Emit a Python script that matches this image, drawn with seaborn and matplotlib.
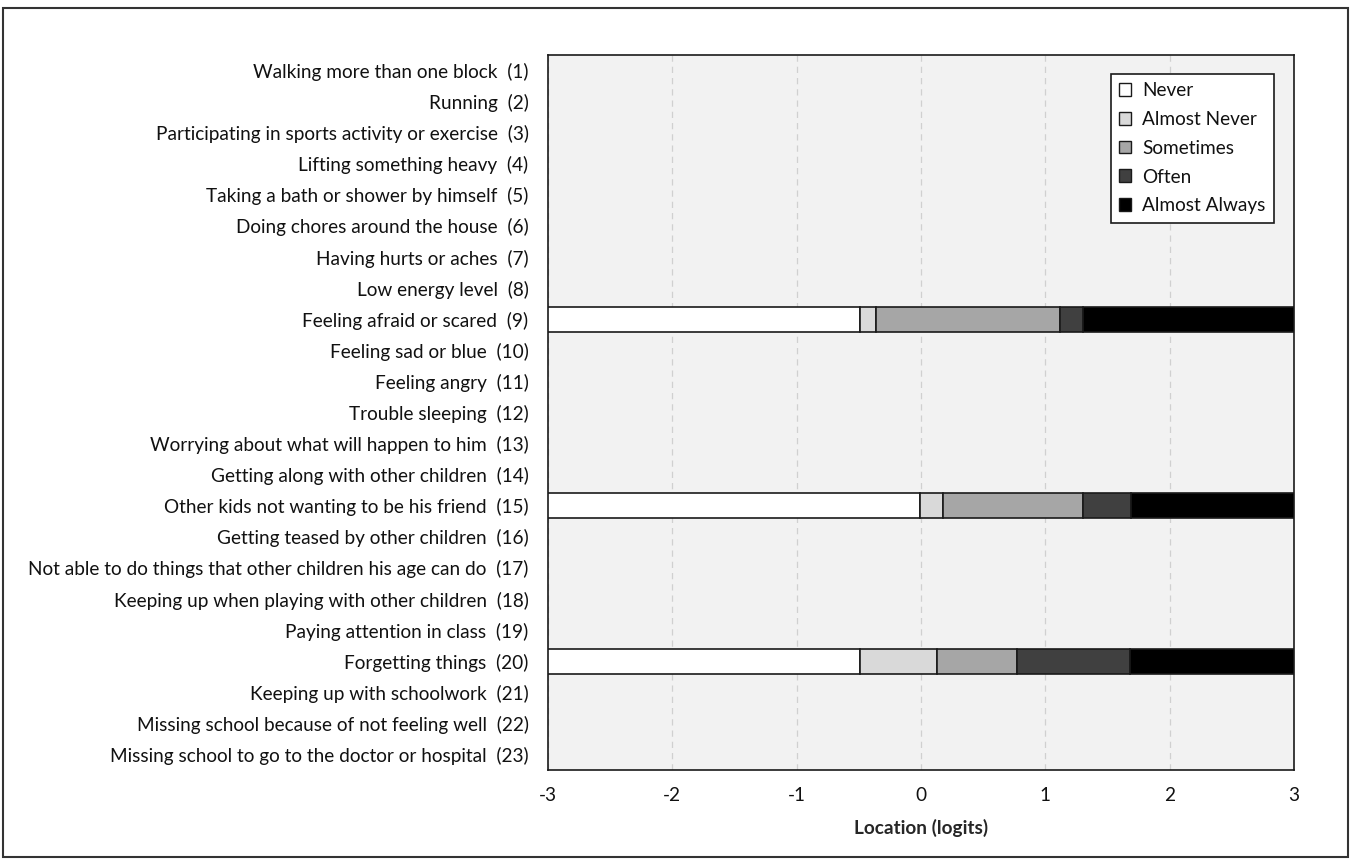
import matplotlib
matplotlib.use("Agg")
import matplotlib.pyplot as plt
from matplotlib.patches import Patch, Rectangle
import numpy as np
import pandas as pd
import seaborn as sns

items = [
    "Walking more than one block",
    "Running",
    "Participating in sports activity or exercise",
    "Lifting something heavy",
    "Taking a bath or shower by himself",
    "Doing chores around the house",
    "Having hurts or aches",
    "Low energy level",
    "Feeling afraid or scared",
    "Feeling sad or blue",
    "Feeling angry",
    "Trouble sleeping",
    "Worrying about what will happen to him",
    "Getting along with other children",
    "Other kids not wanting to be his friend",
    "Getting teased by other children",
    "Not able to do things that other children his age can do",
    "Keeping up when playing with other children",
    "Paying attention in class",
    "Forgetting things",
    "Keeping up with schoolwork",
    "Missing school because of not feeling well",
    "Missing school to go to the doctor or hospital",
]
labels = [f"{name}  ({i + 1})" for i, name in enumerate(items)]

categories = ["Never", "Almost Never", "Sometimes", "Often", "Almost Always"]
colors = ["#ffffff", "#d9d9d9", "#a6a6a6", "#404040", "#000000"]

# Threshold locations (logits) for the items that were estimated
plotted_items = [9, 15, 20]
thresholds = {
    9: [-0.49, -0.36, 1.12, 1.30],
    15: [-0.01, 0.18, 1.30, 1.69],
    20: [-0.49, 0.13, 0.77, 1.68],
}
x_min, x_max = -3, 3
x_ticks = [-3, -2, -1, 0, 1, 2, 3]

rows = []
for item in plotted_items:
    edges = [x_min] + thresholds[item] + [x_max]
    for k, cat in enumerate(categories):
        rows.append({"label": labels[item - 1], "category": cat,
                     "start": edges[k], "width": edges[k + 1] - edges[k]})
segments = pd.DataFrame(rows)

sns.set_style("white")
plt.rcParams["font.family"] = ["Lato", "DejaVu Sans"]
plt.rcParams["text.color"] = "#111111"
plt.rcParams["xtick.color"] = "#111111"
plt.rcParams["ytick.color"] = "#111111"
FS = 13.7

fig = plt.figure(figsize=(13.51, 8.59), dpi=100)
ax = fig.add_axes([0.4056, 0.1036, 0.5522, 0.8324])
ax.set_facecolor("#f2f2f2")

ypos = {lab: i for i, lab in enumerate(labels)}
for cat, col in zip(categories, colors):
    sub = segments[segments["category"] == cat]
    ax.barh([ypos[l] for l in sub["label"]], sub["width"], left=sub["start"],
            height=0.8, color=col, edgecolor="#1a1a1a", linewidth=1.2, zorder=3)

ax.set_ylim(len(labels) - 0.5, -0.5)
ax.set_yticks(range(len(labels)))
ax.set_yticklabels(labels, fontsize=FS)
ax.set_xlim(x_min, x_max)
ax.set_xticks(x_ticks)
ax.set_xticklabels([str(t) for t in x_ticks], fontsize=FS)
ax.tick_params(axis="both", length=0)
ax.tick_params(axis="y", pad=14)
ax.tick_params(axis="x", pad=12)
ax.xaxis.grid(True, linestyle=(0, (5, 4)), color="#d0d0d0", linewidth=0.9, zorder=0)
ax.yaxis.grid(False)
ax.set_axisbelow(True)
for s in ax.spines.values():
    s.set_color("#1a1a1a")
    s.set_linewidth(1.2)
ax.set_xlabel("Location (logits)", fontsize=FS, fontweight="bold", labelpad=11)
ax.set_ylabel("")

handles = [Patch(facecolor=c, edgecolor="#1a1a1a", linewidth=1.0, label=cat)
           for cat, c in zip(categories, colors)]
leg = ax.legend(handles=handles, loc="upper right", bbox_to_anchor=(0.973, 0.974),
                fontsize=FS, frameon=True, fancybox=False, framealpha=1,
                handlelength=0.65, handleheight=0.65, handletextpad=0.55,
                labelspacing=0.62, borderpad=0.45, borderaxespad=0)
leg.get_frame().set_edgecolor("#1a1a1a")
leg.get_frame().set_linewidth(1.2)
leg.get_frame().set_facecolor("white")

fig.patches.append(Rectangle((0.002, 0.002), 0.996, 0.989, transform=fig.transFigure,
                             fill=False, edgecolor="#333333", linewidth=1.5))

fig.savefig("out.png", dpi=100, facecolor="white")
